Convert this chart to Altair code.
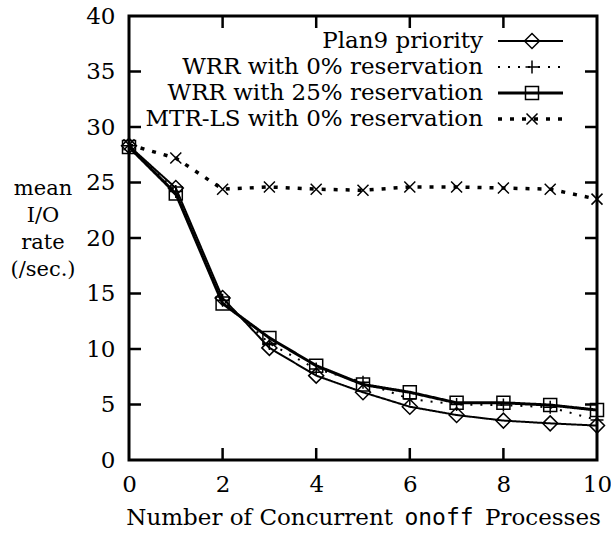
import altair as alt
import pandas as pd

# ---- data ----
x_vals = [0, 1, 2, 3, 4, 5, 6, 7, 8, 9, 10]
plan9 = [28.3, 24.5, 14.6, 10.1, 7.6, 6.1, 4.8, 4.05, 3.55, 3.3, 3.1]
wrr0 = [28.3, 24.2, 14.4, 10.5, 8.2, 7.0, 5.5, 5.0, 4.95, 4.75, 3.6]
wrr25 = [28.2, 24.0, 14.1, 11.0, 8.5, 6.8, 6.1, 5.15, 5.15, 4.95, 4.5]
mtr = [28.4, 27.2, 24.4, 24.6, 24.4, 24.3, 24.6, 24.6, 24.5, 24.4, 23.5]

series_names = [
    "Plan9 priority",
    "WRR with 0% reservation",
    "WRR with 25% reservation",
    "MTR-LS with 0% reservation",
]
series_values = [plan9, wrr0, wrr25, mtr]

x_ticks = [0, 2, 4, 6, 8, 10]
y_ticks = [0, 5, 10, 15, 20, 25, 30, 35, 40]
x_inner_ticks = [2, 4, 6, 8]
y_inner_ticks = [5, 10, 15, 20, 25, 30, 35]
y_title_lines = ["mean", "I/O", "rate", "(/sec.)"]

# ---- styles ----
PLUS = "M-1,0L1,0M0,-1L0,1"
XMARK = "M-1,-1L1,1M-1,1L1,-1"
styles = [
    dict(dash=[1, 0], width=2.0, shape="diamond", size=225),
    dict(dash=[2, 8], width=2.0, shape=PLUS, size=169),
    dict(dash=[1, 0], width=3.0, shape="square", size=169),
    dict(dash=[4, 8], width=3.5, shape=XMARK, size=121),
]

W, H = 468, 444
SERIF = "DejaVu Serif"
FS = 23
xs = alt.Scale(domain=[0, 10], nice=False, zero=False)
ys = alt.Scale(domain=[0, 40], nice=False, zero=False)
X_AX = alt.Axis(values=x_ticks, ticks=False, tickSize=0, domain=False, grid=False, title=None,
                labelFont=SERIF, labelFontSize=FS, labelColor="black", labelPadding=13,
                labelFlush=False)
Y_AX = alt.Axis(values=y_ticks, ticks=False, tickSize=0, domain=False, grid=False, title=None,
                labelFont=SERIF, labelFontSize=FS, labelColor="black", labelPadding=14,
                labelFlush=False)

rows = []
for name, vals in zip(series_names, series_values):
    for xv, yv in zip(x_vals, vals):
        rows.append({"series": name, "x": xv, "y": yv})
df = pd.DataFrame(rows)

layers = []

# inward ticks
ytdf = pd.DataFrame({"v": y_inner_ticks})
xtdf = pd.DataFrame({"v": x_inner_ticks})
TL = 12
for x1, x2 in [(0, TL), (W - TL, W)]:
    layers.append(alt.Chart(ytdf).mark_rule(color="black", strokeWidth=2.5).encode(
        y=alt.Y("v:Q", scale=ys, axis=Y_AX), x=alt.value(x1), x2=alt.value(x2)))
for y1, y2 in [(H - TL, H), (0, TL)]:
    layers.append(alt.Chart(xtdf).mark_rule(color="black", strokeWidth=2.5).encode(
        x=alt.X("v:Q", scale=xs, axis=X_AX), y=alt.value(y1), y2=alt.value(y2)))

# series
for name, st in zip(series_names, styles):
    sub = df[df["series"] == name]
    base = alt.Chart(sub)
    layers.append(base.mark_line(color="black", strokeWidth=st["width"], strokeDash=st["dash"],
                                 strokeCap="butt").encode(
        x=alt.X("x:Q", scale=xs, axis=X_AX), y=alt.Y("y:Q", scale=ys, axis=Y_AX)))
    layers.append(base.mark_point(color="black", filled=False, shape=st["shape"], size=st["size"],
                                  strokeWidth=1.5, opacity=1).encode(
        x=alt.X("x:Q", scale=xs, axis=X_AX), y=alt.Y("y:Q", scale=ys, axis=Y_AX)))

# legend
LX_TEXT, LX1, LX2, LXM = 354, 369, 434, 403
for i, (name, st) in enumerate(zip(series_names, styles)):
    yy = 25 + i * 26
    one = alt.Chart(pd.DataFrame({"label": [name]}))
    layers.append(one.mark_text(align="right", baseline="middle", font=SERIF, fontSize=FS,
                                color="black").encode(
        text="label:N", x=alt.value(LX_TEXT), y=alt.value(yy)))
    layers.append(one.mark_rule(color="black", strokeWidth=st["width"], strokeDash=st["dash"],
                                strokeCap="butt").encode(
        x=alt.value(LX1), x2=alt.value(LX2), y=alt.value(yy)))
    layers.append(one.mark_point(color="black", filled=False, shape=st["shape"], size=st["size"],
                                 strokeWidth=1.5, opacity=1).encode(
        x=alt.value(LXM), y=alt.value(yy)))

# axis titles
layers.append(alt.Chart(pd.DataFrame({"t": ["Number of Concurrent"]})).mark_text(
    align="right", baseline="middle", font=SERIF, fontSize=FS, color="black").encode(
    text="t:N", x=alt.value(264), y=alt.value(502)))
layers.append(alt.Chart(pd.DataFrame({"t": ["onoff"]})).mark_text(
    align="center", baseline="middle", font="DejaVu Sans Mono", fontSize=FS, color="black").encode(
    text="t:N", x=alt.value(310), y=alt.value(502)))
layers.append(alt.Chart(pd.DataFrame({"t": ["Processes"]})).mark_text(
    align="left", baseline="middle", font=SERIF, fontSize=FS, color="black").encode(
    text="t:N", x=alt.value(356), y=alt.value(502)))
layers.append(alt.Chart(pd.DataFrame({"t": ["y"]})).mark_text(
    align="center", baseline="alphabetic", font=SERIF, fontSize=21, color="black",
    lineHeight=27).encode(
    text=alt.value(y_title_lines), x=alt.value(-86), y=alt.value(179)))

chart = alt.layer(*layers).properties(
    width=W, height=H,
    autosize=alt.AutoSizeParams(type="none"),
    padding={"left": 129, "top": 16, "right": 14, "bottom": 79},
    background="white",
).configure(font=SERIF, view=alt.ViewConfig(stroke="black", strokeWidth=3))

chart.save("out.html", embed_options={"renderer": "svg", "actions": False})
